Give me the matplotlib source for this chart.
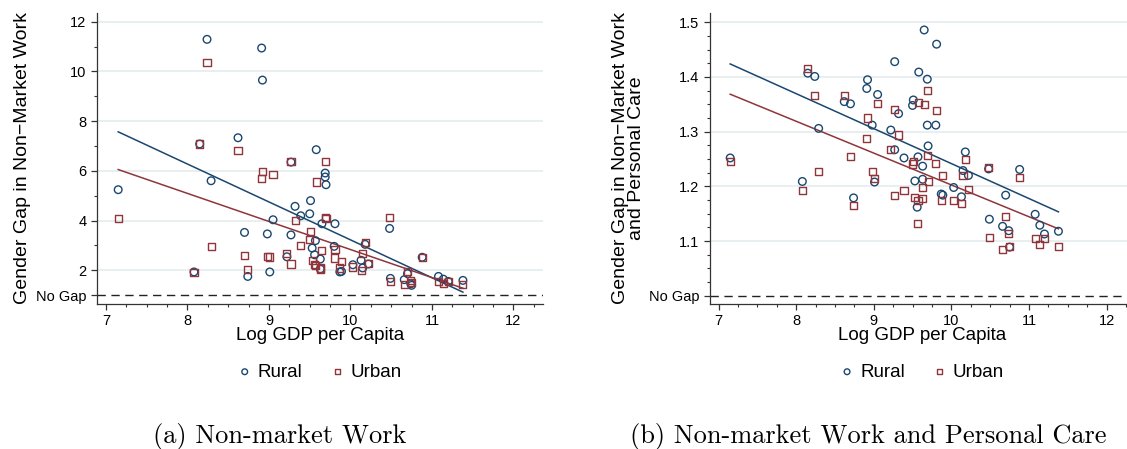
import matplotlib.pyplot as plt
import numpy as np

plt.rcParams['font.family'] = ['Liberation Sans', 'DejaVu Sans']

# log GDP per capita, one entry per country
log_gdp = [7.15, 8.08, 8.15, 8.24, 8.29, 8.62, 8.70, 8.74, 8.91, 8.92,
           8.98, 9.01, 9.05, 9.22, 9.27, 9.27, 9.32, 9.39, 9.50, 9.51,
           9.53, 9.56, 9.57, 9.58, 9.63, 9.63, 9.65, 9.69, 9.69, 9.70,
           9.80, 9.81, 9.87, 9.89, 10.03, 10.13, 10.15, 10.18, 10.22, 10.48,
           10.49, 10.66, 10.70, 10.74, 10.75, 10.88, 11.08, 11.14, 11.20, 11.38]

# (a) gender gap in non-market work
work_rural = [5.24, 1.93, 7.08, 11.29, 5.60, 7.33, 3.52, 1.75, 10.94, 9.65,
              3.46, 1.93, 4.03, 2.54, 6.35, 3.42, 4.57, 4.19, 4.27, 4.80,
              2.89, 2.62, 3.19, 6.85, 2.45, 2.05, 3.87, 5.91, 5.75, 5.44,
              2.96, 3.87, 1.93, 1.95, 2.22, 2.40, 2.09, 3.04, 2.25, 3.68,
              1.67, 1.62, 1.86, 1.45, 1.39, 2.52, 1.75, 1.64, 1.55, 1.59]
work_urban = [4.07, 1.89, 7.08, 10.36, 2.97, 6.82, 2.58, 2.01, 5.68, 5.96,
              2.55, 2.53, 5.84, 2.69, 6.38, 2.25, 3.99, 2.99, 3.24, 3.56,
              2.40, 2.22, 2.18, 5.55, 2.09, 2.05, 2.79, 6.37, 4.12, 4.08,
              2.49, 2.83, 2.09, 2.35, 2.13, 1.98, 2.66, 3.10, 2.26, 4.12,
              1.55, 1.42, 1.95, 1.58, 1.51, 2.52, 1.54, 1.45, 1.54, 1.43]

# (b) gender gap in non-market work and personal care
care_rural = [1.252, 1.209, 1.407, 1.401, 1.306, 1.355, 1.351, 1.179, 1.379, 1.395,
              1.312, 1.208, 1.368, 1.303, 1.428, 1.267, 1.333, 1.252, 1.348, 1.358,
              1.210, 1.162, 1.254, 1.409, 1.237, 1.213, 1.486, 1.396, 1.312, 1.274,
              1.312, 1.460, 1.186, 1.184, 1.198, 1.181, 1.229, 1.263, 1.220, 1.232,
              1.140, 1.127, 1.184, 1.119, 1.089, 1.231, 1.149, 1.129, 1.113, 1.118]
care_urban = [1.246, 1.192, 1.415, 1.366, 1.227, 1.367, 1.254, 1.165, 1.288, 1.325,
              1.227, 1.214, 1.352, 1.268, 1.340, 1.184, 1.294, 1.192, 1.241, 1.245,
              1.179, 1.132, 1.174, 1.354, 1.198, 1.178, 1.349, 1.376, 1.256, 1.209,
              1.242, 1.338, 1.175, 1.220, 1.175, 1.169, 1.220, 1.250, 1.195, 1.234,
              1.106, 1.085, 1.145, 1.114, 1.090, 1.217, 1.104, 1.094, 1.105, 1.090]

NAVY = '#1a476f'
MAROON = '#90353b'
GRID = '#e6eef0'


def panel(ax, rural, urban, yticks, ylabels, ylim, yminor, ylabel, label_x):
    x = np.array(log_gdp)
    ax.scatter(x, rural, s=30, facecolors='none', edgecolors=NAVY,
               linewidths=1.0, marker='o', label='Rural', zorder=3)
    ax.scatter(x, urban, s=26, facecolors='none', edgecolors=MAROON,
               linewidths=1.0, marker='s', label='Urban', zorder=3)
    # linear fits
    xs = np.array([x.min(), x.max()])
    for y, c in [(rural, NAVY), (urban, MAROON)]:
        b, a = np.polyfit(x, y, 1)
        ax.plot(xs, a + b * xs, color=c, lw=1.1, zorder=2)
    ax.axhline(1, color='#222222', lw=1.0, ls=(0, (6, 4)), zorder=1)

    ax.set_xlim(6.89, 12.36)
    ax.set_ylim(*ylim)
    ax.set_xticks([7, 8, 9, 10, 11, 12])
    ax.set_xticks(np.arange(7, 12.3, 0.25), minor=True)
    ax.set_yticks(yticks)
    ax.set_yticklabels(ylabels)
    ax.set_yticks(yminor, minor=True)
    ax.tick_params(axis='both', which='major', length=4, width=0.9,
                   labelsize=10.5, color='#333333')
    ax.tick_params(axis='both', which='minor', length=2.5, width=0.8,
                   color='#333333')
    ax.grid(axis='y', which='major', color=GRID, lw=1.3, zorder=0)
    ax.get_ygridlines()[0].set_visible(False)
    ax.set_axisbelow(True)
    for s in ['top', 'right']:
        ax.spines[s].set_visible(False)
    for s in ['left', 'bottom']:
        ax.spines[s].set_color('#333333')
        ax.spines[s].set_linewidth(0.9)

    ax.set_xlabel('Log GDP per Capita', fontsize=13.5)
    ax.xaxis.set_label_coords(0.5, -0.079)
    ax.xaxis.label.set_va('top')
    ax.set_ylabel(ylabel, fontsize=14, linespacing=0.95)
    ax.yaxis.set_label_coords(label_x, 0.5)
    ax.legend(loc='center', bbox_to_anchor=(0.5, -0.234), ncol=2,
              frameon=False, fontsize=13.5, markerscale=0.75,
              handlelength=0.7, handletextpad=0.35, columnspacing=1.5)


fig = plt.figure(figsize=(11.27, 4.49), dpi=100)
ax1 = fig.add_axes([97 / 1127, 1 - 304 / 449, 445.8 / 1127, 291 / 449])
ax2 = fig.add_axes([710 / 1127, 1 - 304 / 449, 424.5 / 1127, 291 / 449])

panel(ax1, work_rural, work_urban,
      [1, 2, 4, 6, 8, 10, 12], ['No Gap', '2', '4', '6', '8', '10', '12'],
      (0.64, 12.35), [3, 5, 7, 9, 11],
      'Gender Gap in Non\u2212Market Work', -0.148)
panel(ax2, care_rural, care_urban,
      [1.0, 1.1, 1.2, 1.3, 1.4, 1.5], ['No Gap', '1.1', '1.2', '1.3', '1.4', '1.5'],
      (0.985, 1.517), np.arange(1.025, 1.51, 0.025),
      'Gender Gap in Non\u2212Market Work\nand Personal Care', -0.153)

fig.text(280 / 1127, 1 - 437 / 449, '(a) Non-market Work',
         family='cmr10', fontsize=19, ha='center', va='center')
fig.text(868 / 1127, 1 - 437 / 449, '(b) Non-market Work and Personal Care',
         family='cmr10', fontsize=19, ha='center', va='center')

fig.savefig('out.png', dpi=100)
